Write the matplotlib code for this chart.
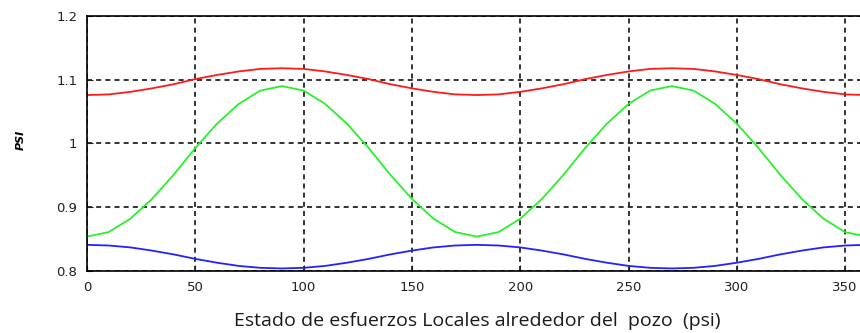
import matplotlib
matplotlib.use("Agg")
import matplotlib.pyplot as plt

# angle around the well (deg)
angle = [0, 10, 20, 30, 40, 50, 60, 70, 80, 90, 100, 110, 120, 130, 140, 150, 160, 170, 180,
         190, 200, 210, 220, 230, 240, 250, 260, 270, 280, 290, 300, 310, 320, 330, 340, 350, 360]

red_q = [1.076, 1.077, 1.081, 1.0865, 1.093, 1.101, 1.1075, 1.113, 1.117, 1.118,
         1.117, 1.113, 1.1075, 1.101, 1.093, 1.0865, 1.081, 1.077, 1.076,
         1.077, 1.081, 1.0865, 1.093, 1.101, 1.1075, 1.113, 1.117, 1.118,
         1.117, 1.113, 1.1075, 1.101, 1.093, 1.0865, 1.081, 1.077, 1.076]
green_q = [0.854, 0.861, 0.882, 0.913, 0.951, 0.993, 1.031, 1.062, 1.083, 1.090,
           1.083, 1.062, 1.031, 0.993, 0.951, 0.913, 0.882, 0.861, 0.854,
           0.861, 0.882, 0.913, 0.951, 0.993, 1.031, 1.062, 1.083, 1.090,
           1.083, 1.062, 1.031, 0.993, 0.951, 0.913, 0.882, 0.861, 0.854]
blue_q = [0.841, 0.840, 0.837, 0.832, 0.826, 0.819, 0.813, 0.808, 0.805, 0.804,
          0.805, 0.808, 0.813, 0.819, 0.826, 0.832, 0.837, 0.840, 0.841,
          0.840, 0.837, 0.832, 0.826, 0.819, 0.813, 0.808, 0.805, 0.804,
          0.805, 0.808, 0.813, 0.819, 0.826, 0.832, 0.837, 0.840, 0.841]

xticks = [0, 50, 100, 150, 200, 250, 300, 350]
yticks = [0.8, 0.9, 1.0, 1.1, 1.2]
ytick_labels = ['0.8', '0.9', '1', '1.1', '1.2']

fig = plt.figure(figsize=(8.6, 3.33), dpi=100)
ax = fig.add_axes([0.1012, 0.1862, 0.9067, 0.7658])

ax.plot(angle, red_q, color='#ff1a1a', lw=1.3)
ax.plot(angle, green_q, color='#2af02a', lw=1.3)
ax.plot(angle, blue_q, color='#2222ff', lw=1.3)

ax.set_xlim(0, 360)
ax.set_ylim(0.8, 1.2)
ax.set_xticks(xticks)
ax.set_yticks(yticks)
ax.set_yticklabels(ytick_labels)
ax.tick_params(direction='in', length=4, labelsize=9.5, colors='#202020', pad=7)
ax.grid(True, color='#111111', linestyle=(0, (3, 2.5)), lw=1.2)
for s in ax.spines.values():
    s.set_linewidth(1.2)

ax.set_xlabel('Estado de esfuerzos Locales alrededor del  pozo  (psi)',
              fontsize=14, family='Open Sans', color='#1a1a1a', labelpad=13)
fig.text(0.024, 0.58, 'PSI', rotation=90, fontsize=8, fontweight='bold',
         fontstyle='italic', ha='center', va='center')

fig.savefig('out.png', dpi=100)
